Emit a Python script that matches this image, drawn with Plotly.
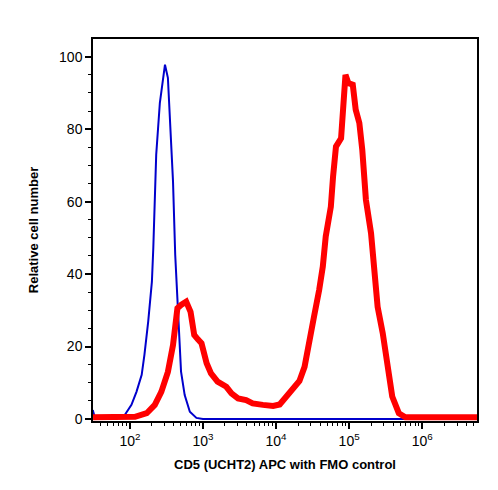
import plotly.graph_objects as go

# FMO control (blue)
blue_x = [31, 32.5, 34.4, 40, 50, 66, 85, 105, 123, 145, 158, 178, 200, 209, 219, 229,
          257, 275, 302, 331, 363, 389, 417, 457, 501, 562, 661, 813, 1000, 3000,
          30000, 300000, 5600000]
blue_y = [2.5, 1.0, 0.1, 0, 0, 0.1, 1.1, 3.9, 7.5, 12.2, 17.7, 26.9, 37.9, 47.2, 58.3, 72.9,
          87.3, 91.4, 97.8, 94.2, 79.4, 65.6, 45.3, 26.9, 13.1, 6.6, 2.0, 0.3, 0, 0,
          0, 0, 0]

# CD5 (UCHT2) APC (red)
red_x = [31.3, 100, 117.5, 170, 219, 269, 331, 389, 447, 501, 589, 676, 759, 851, 955,
         1122, 1288, 1585, 2089, 2455, 3020, 3890, 4786, 6607, 9120, 11220, 13800, 16980,
         20890, 24550, 28840, 33110, 38900, 43650, 47860, 51290, 56230, 60260, 66070,
         77620, 83180, 89130, 97720, 112200, 123000, 138000, 151400, 169800, 199500,
         218800, 245500, 288400, 338800, 389000, 478600, 588800, 5623000]
red_y = [0.5, 0.5, 0.6, 1.6, 3.9, 7.5, 13, 20.4, 30.6, 31.5, 32.4, 29.6, 23.2, 22, 20.9,
         15.4, 12.6, 10.3, 8.9, 7.1, 5.7, 5.2, 4.3, 3.9, 3.6, 4.0, 6.0, 8.0,
         10.5, 14.4, 22.7, 28.3, 35.6, 42.1, 50.4, 54.1, 58.6, 66.9, 75.2,
         77.5, 84.4, 95, 92.7, 92.3, 85.4, 81.7, 74.3, 60.5, 51.3,
         42.1, 31, 23.7, 14.4, 6.2, 1.6, 0.5, 0.5]

x_tickvals = [1e2, 1e3, 1e4, 1e5, 1e6]
x_ticktext = ["10<sup>2</sup>", "10<sup>3</sup>", "10<sup>4</sup>", "10<sup>5</sup>", "10<sup>6</sup>"]
y_tickvals = [0, 20, 40, 60, 80, 100]

minor_x = [m * 10 ** k for k in range(1, 7) for m in range(2, 10)]
minor_x = [v for v in minor_x if 31 < v < 5.6e6]

fig = go.Figure()
fig.add_trace(go.Scatter(x=blue_x, y=blue_y, mode="lines",
                         line=dict(color="#0000cc", width=2), showlegend=False))
fig.add_trace(go.Scatter(x=red_x, y=red_y, mode="lines",
                         line=dict(color="#ff0000", width=6), showlegend=False))

font = "Liberation Sans, Arial, sans-serif"
fig.update_layout(
    width=498, height=490,
    margin=dict(l=93, r=21, t=39, b=69),
    plot_bgcolor="white", paper_bgcolor="white",
    font=dict(family=font, size=14, color="black"),
)
fig.update_xaxes(
    type="log", range=[1.495, 6.75],
    showgrid=False, zeroline=False,
    showline=True, linecolor="black", linewidth=1.5, mirror=True,
    ticks="outside", ticklen=6, tickwidth=1.5, tickcolor="black",
    tickmode="array", tickvals=x_tickvals, ticktext=x_ticktext,
    tickfont=dict(size=14),
    minor=dict(ticks="outside", ticklen=3, tickwidth=1, tickcolor="black",
               tickmode="array", tickvals=minor_x, showgrid=False),
    title=dict(text="<b>CD5 (UCHT2) APC with FMO control</b>", font=dict(size=13), standoff=12),
)
fig.update_yaxes(
    range=[-0.55, 104.9],
    showgrid=False, zeroline=False,
    showline=True, linecolor="black", linewidth=1.5, mirror=True,
    ticks="outside", ticklen=6, tickwidth=1.5, tickcolor="black",
    tickmode="array", tickvals=y_tickvals,
    tickfont=dict(size=14),
    minor=dict(ticks="outside", ticklen=3, tickwidth=1, tickcolor="black",
               dtick=5, showgrid=False),
    title=dict(text="<b>Relative cell number</b>", font=dict(size=13), standoff=18),
)

fig.write_html("out.html")
